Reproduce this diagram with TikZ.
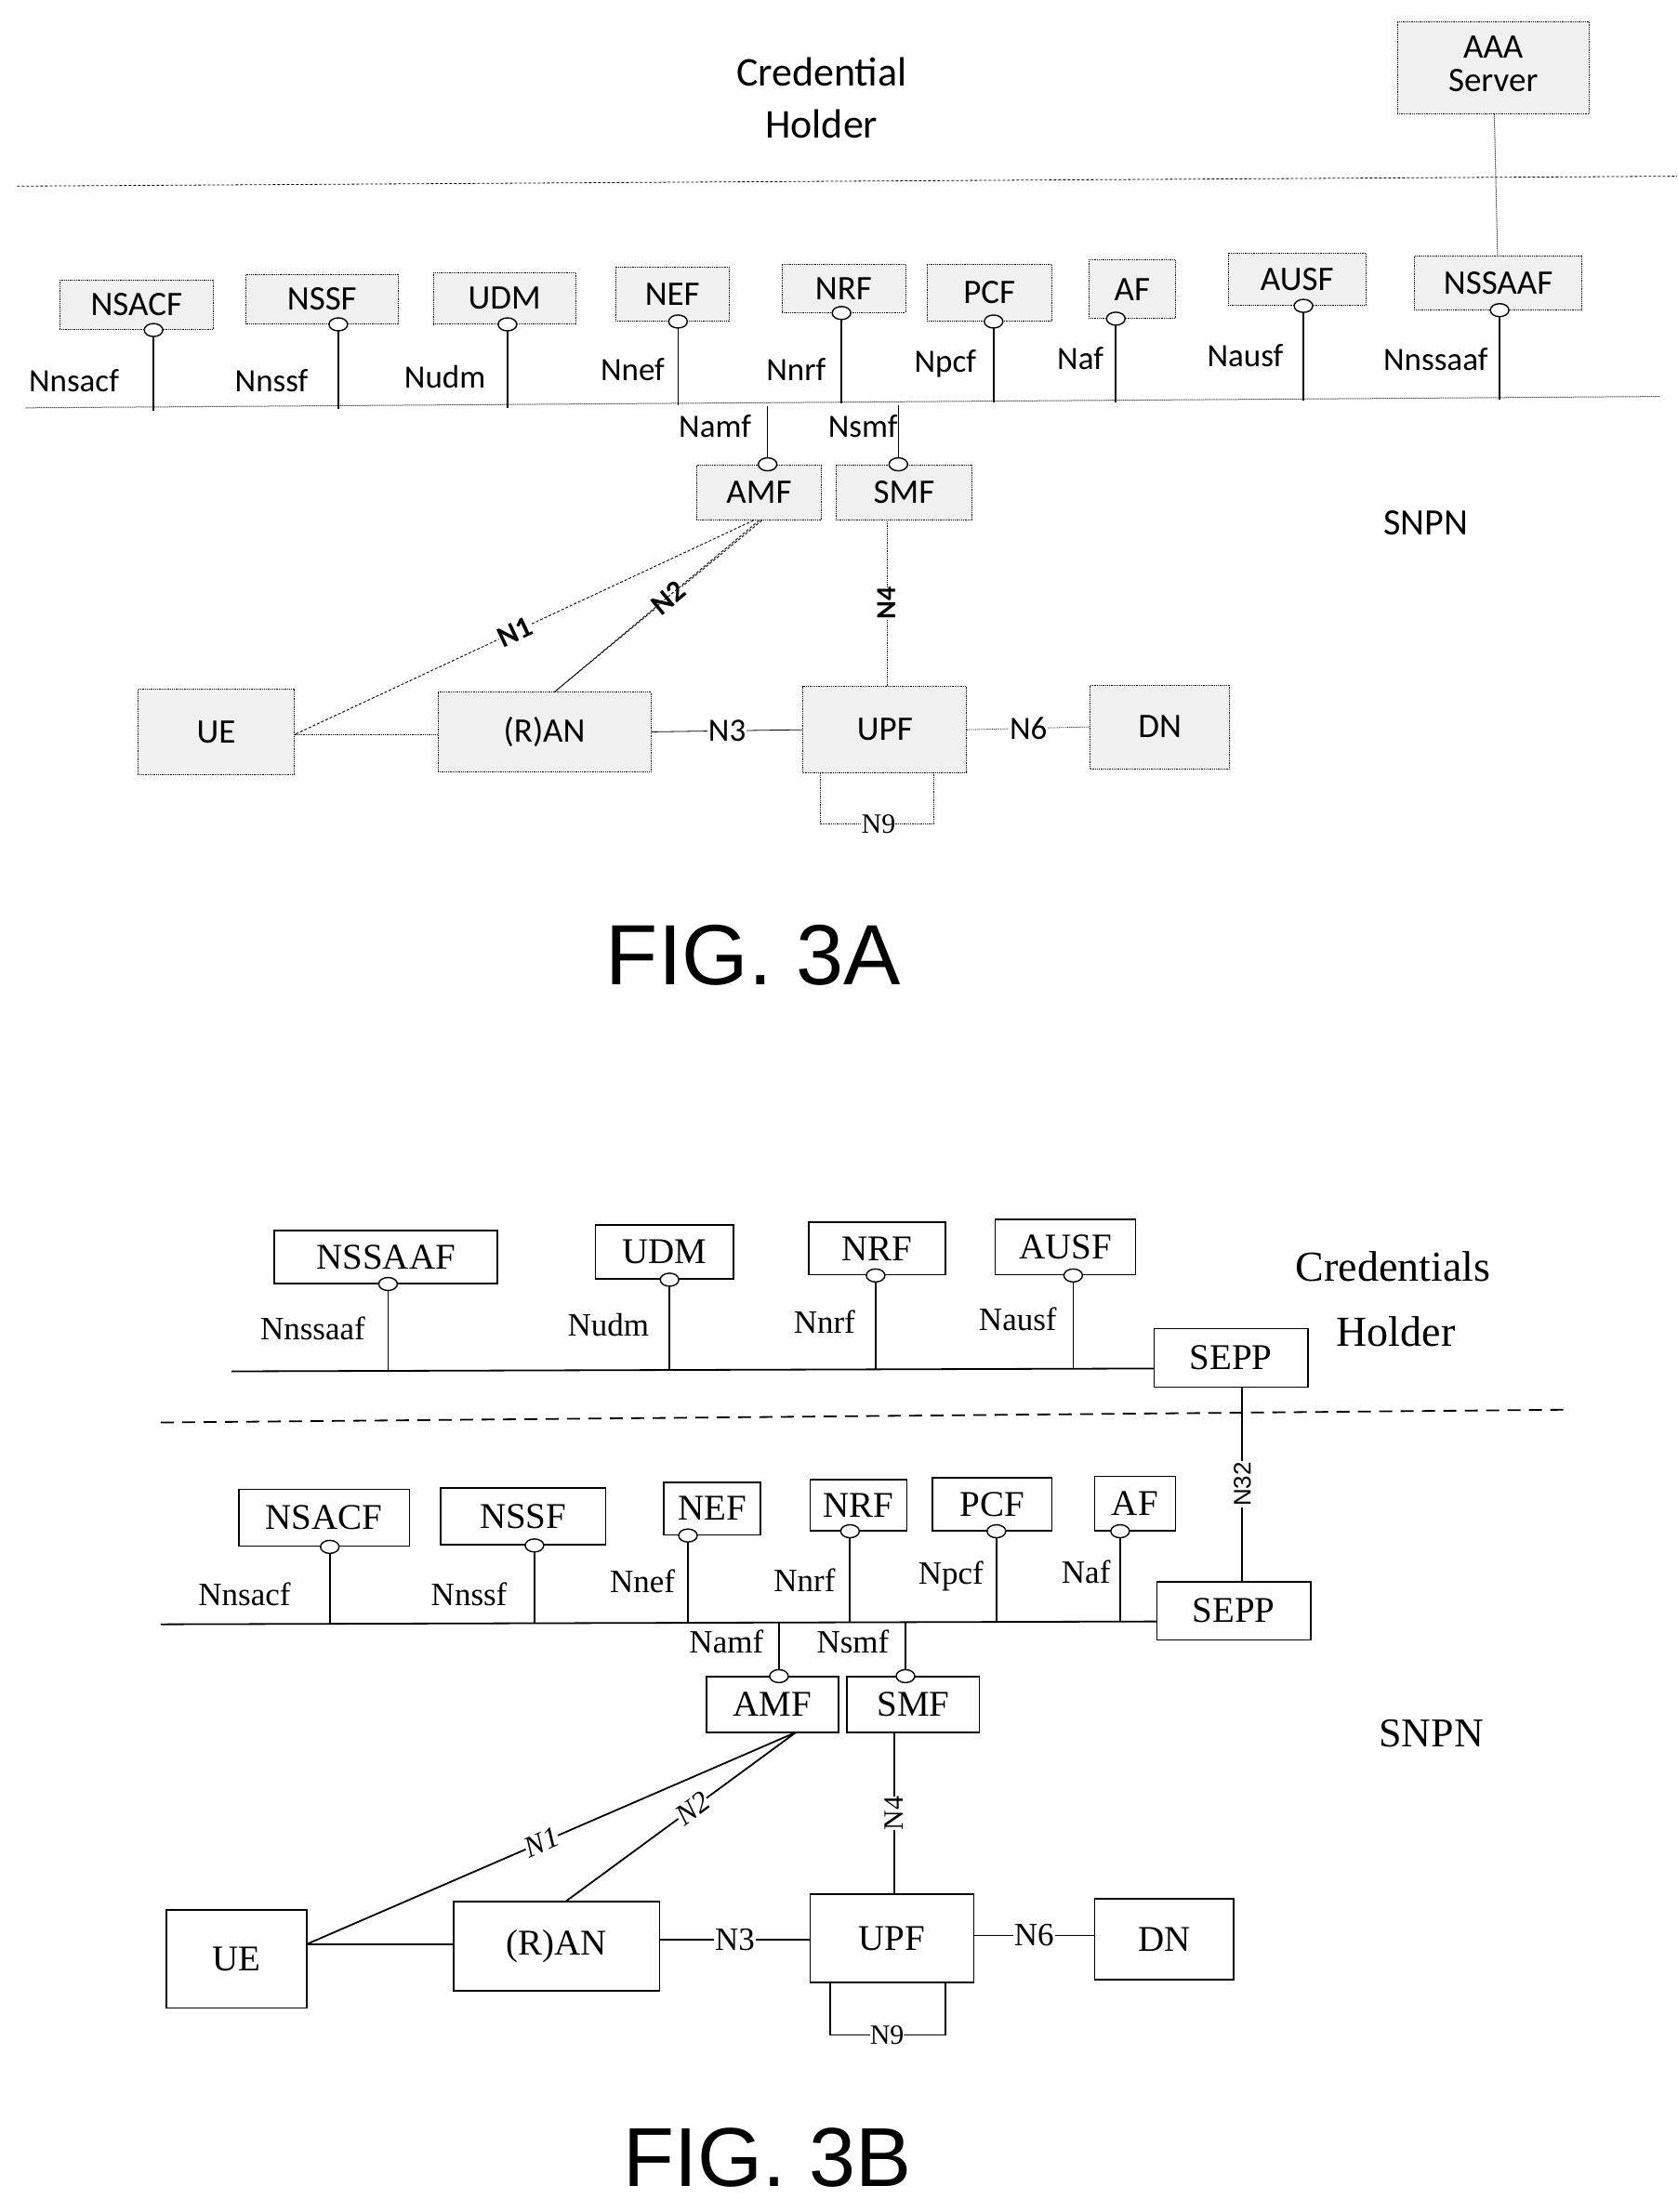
\documentclass[tikz,border=0pt]{standalone}
\usetikzlibrary{shapes.geometric}
\usepackage{fontspec}
\setmainfont{Liberation Serif}
\newfontfamily\calfam{Carlito}
\newfontfamily\ars{Liberation Sans}
\begin{document}
\begin{tikzpicture}[x=1.529pt,y=-1.529pt,
 ba/.style={draw,densely dotted,fill=gray!12,inner sep=0,font=\calfam\fontsize{37}{40}\selectfont,line width=0.8pt},
 bb/.style={draw,fill=white,inner sep=0,font=\fontsize{39}{42}\selectfont,line width=1.6pt},
 la/.style={font=\calfam\fontsize{35}{38}\selectfont,inner sep=1pt},
 lb/.style={font=\fontsize{35}{38}\selectfont,inner sep=1pt},
 sa/.style={line width=1.6pt},
 sb/.style={line width=1.8pt},
 dot/.style={draw,fill=white,ellipse,minimum width=20pt,minimum height=14pt,inner sep=0,line width=1.4pt}]
\useasboundingbox (0,0) rectangle (1179.86,1556.57);
\newcommand\bx[7]{\node[#7,minimum width={(#4-#2)*1.529pt},minimum height={(#5-#3)*1.529pt}] (#1) at ({(#2+#4)/2},{(#3+#5)/2}) {#6};}
% ---------- FIG 3A
\node[la,font=\calfam\fontsize{44}{48}\selectfont,align=center] (ch) at (578,69) {Credential\\[8pt]Holder};
\bx{aaa}{983}{15}{1118}{80}{\begin{tabular}{@{}c@{}}AAA\\[-4pt]Server\end{tabular}}{ba}
\draw[densely dashed,line width=0.8pt] (12,131) coordinate(d1) -- (1180,124) coordinate(d2);
\draw[densely dotted,line width=1pt] (18,287) coordinate(bA1) -- (1168,279) coordinate(bA2);
\bx{nsacfA}{42}{197}{150}{232}{NSACF}{ba}
\bx{nssfA}{173}{193}{280}{228}{NSSF}{ba}
\bx{udmA}{305}{192}{405}{228}{UDM}{ba}
\bx{nefA}{433}{188}{513}{226}{NEF}{ba}
\bx{nrfA}{550}{186}{637}{220}{NRF}{ba}
\bx{pcfA}{652}{186}{740}{226}{PCF}{ba}
\bx{afA}{766}{183}{827}{224}{AF}{ba}
\bx{ausfA}{864}{178}{961}{215}{AUSF}{ba}
\bx{nssaafA}{995}{180}{1113}{218}{NSSAAF}{ba}
\draw[densely dotted,line width=1pt] (aaa) -- (nssaafA);
\foreach \n/\x/\yb/\l/\lx/\ly in {nsacfA/108/289/Nnsacf/52/268, nssfA/238/288/Nnssf/191/268, udmA/357/287/Nudm/313/265, nefA/477/285/Nnef/445/260, nrfA/592/284/Nnrf/560/260, pcfA/699/283/Npcf/665/256, afA/785/283/Naf/760/252, ausfA/917/282/Nausf/876/250, nssaafA/1055/281/Nnssaaf/1010/253}{
 \coordinate (\n-b) at (\x,\yb);
 \draw[sa] (\n-b) -- (\n.south -| \n-b);
 \node[dot] at (\n.south -| \n-b) {};
 \node[la] at (\lx,\ly) {\l};
}
\bx{amfA}{490}{327}{578}{366}{AMF}{ba}
\bx{smfA}{588}{327}{684}{366}{SMF}{ba}
\coordinate (amfA-b) at (540,286); \coordinate (smfA-b) at (632,285);
\draw[sa] (amfA-b) -- (amfA.north -| amfA-b); \node[dot] at (amfA.north -| amfA-b) {};
\draw[sa] (smfA-b) -- (smfA.north -| smfA-b); \node[dot] at (smfA.north -| smfA-b) {};
\node[la] at (503,300) {Namf}; \node[la] at (607,300) {Nsmf};
\node[la,font=\calfam\fontsize{40}{44}\selectfont] (snpnA) at (1003,368) {SNPN};
\bx{ueA}{97}{485}{207}{545}{UE}{ba}
\bx{ranA}{308}{487}{458}{543}{(R)AN}{ba}
\bx{upfA}{565}{483}{680}{544}{UPF}{ba}
\bx{dnA}{767}{482}{865}{541}{DN}{ba}
\coordinate (ueAr) at (207,517);
\draw[densely dashed,line width=0.9pt] (amfA.south) ++(-4,0) coordinate(aA1) -- (ueAr) node[pos=0.52,sloped,la,font=\calfam\bfseries\fontsize{32}{36}\selectfont,fill=white,inner sep=0pt] {N1};
\draw[densely dashed,line width=0.9pt] (amfA.south) ++(2,0) coordinate(aA2) -- (390,487) coordinate(ranAt) node[pos=0.45,sloped,la,font=\calfam\bfseries\fontsize{32}{36}\selectfont,fill=white,inner sep=0pt] {N2};
\draw[densely dashed,line width=0.9pt] (amfA.south) -- (ranAt);
\draw[densely dotted,line width=0.8pt] (ueAr) -- (ranA.west |- ueAr);
\draw[densely dotted,line width=0.8pt] (upfA.north -| 624,0) -- (smfA.south -| 624,0) node[midway,sloped,la,font=\calfam\bfseries\fontsize{30}{34}\selectfont,fill=white,inner sep=0pt] {N4};
\draw[line width=0.8pt] (ranA.east) -- (upfA.west) node[midway,la,fill=white,inner sep=1pt] {N3};
\draw[densely dotted,line width=0.8pt] (upfA.east) -- (dnA.west) node[midway,la,fill=white,inner sep=1pt] {N6};
\draw[densely dotted,line width=0.8pt] (upfA.south -| 577,0) -- (577,580) -- (657,580) -- (upfA.south -| 657,0);
\node[lb,fill=white,inner sep=0pt,font=\fontsize{30}{34}\selectfont] at (618,580) {N9};
\node[font=\ars\fontsize{92}{96}\selectfont] (figA) at (530,672) {FIG. 3A};
% ---------- FIG 3B
\bx{nssaafB}{193}{866}{350}{903}{NSSAAF}{bb}
\bx{udmB}{419}{862}{516}{900}{UDM}{bb}
\bx{nrfB1}{569}{860}{665}{897}{NRF}{bb}
\bx{ausfB}{700}{858}{799}{897}{AUSF}{bb}
\bx{seppB1}{812}{935}{920}{976}{SEPP}{bb}
\bx{seppB2}{814}{1113}{922}{1154}{SEPP}{bb}
\node[lb,font=\fontsize{46}{50}\selectfont] at (980,891) {Credentials};
\node[lb,font=\fontsize{46}{50}\selectfont] at (982,937) {Holder};
\coordinate (busB1l) at (163,965);
\draw[sb] (busB1l) -- (seppB1.west |- 0,963);
\draw[dashed,dash pattern=on 14pt off 9pt,line width=1.8pt] (113,1001) coordinate(dd1) -- (1100,992) coordinate(dd2);
\foreach \n/\x/\yb/\l/\lx/\ly in {nssaafB/273/965/Nnssaaf/220/935, udmB/471/964/Nudm/428/932, nrfB1/616/964/Nnrf/580/930, ausfB/755/963/Nausf/716/928}{
 \coordinate (\n-b) at (\x,\yb);
 \draw[sb] (\n-b) -- (\n.south -| \n-b);
 \node[dot] at (\n.south -| \n-b) {};
 \node[lb] at (\lx,\ly) {\l};
}
\draw[sb] (seppB2.north -| 874,0) -- (seppB1.south -| 874,0) node[midway,sloped,lb,font=\ars\fontsize{26}{30}\selectfont,fill=white,inner sep=1pt] {N32};
\bx{nsacfB}{168}{1048}{288}{1088}{NSACF}{bb}
\bx{nssfB}{310}{1047}{426}{1087}{NSSF}{bb}
\bx{nefB}{467}{1043}{535}{1080}{NEF}{bb}
\bx{nrfB2}{570}{1041}{638}{1077}{NRF}{bb}
\bx{pcfB}{656}{1040}{740}{1077}{PCF}{bb}
\bx{afB}{770}{1039}{827}{1077}{AF}{bb}
\coordinate (busB2l) at (113,1143);
\draw[sb] (busB2l) -- (seppB2.west |- 0,1141);
\foreach \n/\x/\yb/\l/\lx/\ly in {nsacfB/232/1143/Nnsacf/172/1122, nssfB/376/1142/Nnssf/330/1122, nefB/484/1142/Nnef/452/1113, nrfB2/598/1142/Nnrf/566/1112, pcfB/701/1141/Npcf/669/1109, afB/788/1141/Naf/764/1106}{
 \coordinate (\n-b) at (\x,\yb);
 \draw[sb] (\n-b) -- (\n.south -| \n-b);
 \node[dot] at (\n.south -| \n-b) {};
 \node[lb] at (\lx,\ly) {\l};
}
\bx{amfB}{497}{1180}{590}{1219}{AMF}{bb}
\bx{smfB}{596}{1180}{689}{1219}{SMF}{bb}
\coordinate (amfB-b) at (548,1142); \coordinate (smfB-b) at (637,1142);
\draw[sb] (amfB-b) -- (amfB.north -| amfB-b); \node[dot] at (amfB.north -| amfB-b) {};
\draw[sb] (smfB-b) -- (smfB.north -| smfB-b); \node[dot] at (smfB.north -| smfB-b) {};
\node[lb] at (511,1155) {Namf}; \node[lb] at (600,1155) {Nsmf};
\node[lb,font=\fontsize{44}{48}\selectfont] (snpnB) at (1007,1220) {SNPN};
\bx{ueB}{117}{1344}{216}{1413}{UE}{bb}
\bx{ranB}{319}{1338}{464}{1401}{(R)AN}{bb}
\bx{upfB}{570}{1333}{685}{1395}{UPF}{bb}
\bx{dnB}{770}{1336}{868}{1393}{DN}{bb}
\coordinate (ueBr) at (216,1368);
\coordinate (amfBs) at (560,1219);
\draw[sb] (amfBs) -- (ueBr) node[pos=0.52,sloped,lb,font=\itshape\fontsize{32}{36}\selectfont,fill=white,inner sep=0pt] {N1};
\draw[sb] (amfBs) -- (398,1338) coordinate(ranBt) node[pos=0.45,sloped,lb,font=\itshape\fontsize{32}{36}\selectfont,fill=white,inner sep=0pt] {N2};
\draw[sb] (ueBr) -- (ranB.west |- ueBr);
\draw[sb] (upfB.north -| 629,0) -- (smfB.south -| 629,0) node[midway,sloped,lb,font=\fontsize{30}{34}\selectfont,fill=white,inner sep=0pt] {N4};
\draw[sb] (ranB.east |- 0,1365) -- (upfB.west |- 0,1365) node[midway,lb,fill=white,inner sep=1pt] {N3};
\draw[sb] (upfB.east |- 0,1362) -- (dnB.west |- 0,1362) node[midway,lb,fill=white,inner sep=1pt] {N6};
\draw[sb] (upfB.south -| 584,0) -- (584,1432) -- (665,1432) -- (upfB.south -| 665,0);
\node[lb,fill=white,inner sep=0pt,font=\fontsize{30}{34}\selectfont] at (624,1432) {N9};
\node[font=\ars\fontsize{90}{94}\selectfont] (figB) at (540,1518) {FIG. 3B};
\end{tikzpicture}
\end{document}
